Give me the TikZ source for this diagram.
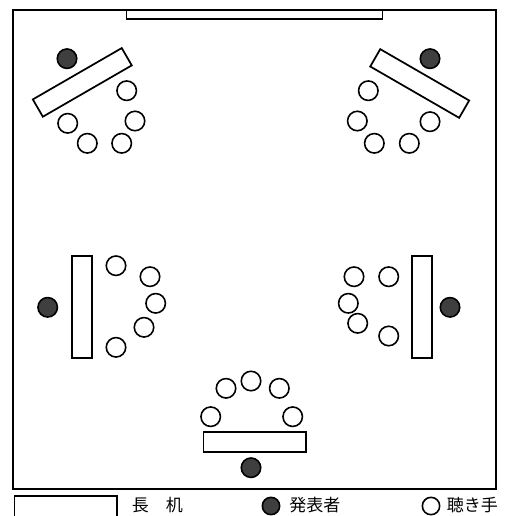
\documentclass[tikz,border=0pt]{standalone}
\usepackage{fontspec}
\newfontfamily\jpfont{Noto Sans CJK JP}
\usepackage{tikz}
\usetikzlibrary{positioning}
\definecolor{kokuIro}{HTML}{3F3F3F}

\begin{document}
\begin{tikzpicture}[x=0.75pt, y=-0.75pt,
    tsukue/.style={rectangle, draw, line width=1.3pt, fill=white, inner sep=0pt,
                   minimum width=77pt, minimum height=15pt},
    happyosha/.style={circle, draw, line width=1.2pt, fill=kokuIro, inner sep=0pt, minimum size=14.6pt},
    kikite/.style={circle, draw, line width=1.2pt, fill=white, inner sep=0pt, minimum size=14.6pt},
    hanrei/.style={font=\jpfont\fontsize{12.75pt}{14pt}\selectfont, anchor=west, inner sep=0pt}
  ]
  \clip (0,0) rectangle (507,516);
  % room
  \draw[line width=1.4pt] (13,10) rectangle (496,489);
  \node[tsukue, minimum width=192pt, minimum height=6.5pt] (kokuban) at (254.5,14.5) {};

  % upper left
  \node[tsukue, rotate=30] (tsukueA) at (82.3,82.4) {};
  \node[happyosha] (happyoA) at (67,58.7) {};
  \node[kikite] (kikiteA1) at (126.7,90.7) {};
  \node[kikite] (kikiteA2) at (135,121) {};
  \node[kikite] (kikiteA3) at (67.7,123.3) {};
  \node[kikite] (kikiteA4) at (87.3,143.3) {};
  \node[kikite] (kikiteA5) at (121.7,143.3) {};

  % upper right
  \node[tsukue, rotate=-30] (tsukueB) at (419.7,83.5) {};
  \node[happyosha] (happyoB) at (430,58.7) {};
  \node[kikite] (kikiteB1) at (368.3,90.7) {};
  \node[kikite] (kikiteB2) at (357.3,121) {};
  \node[kikite] (kikiteB3) at (430,121.7) {};
  \node[kikite] (kikiteB4) at (374.3,143.3) {};
  \node[kikite] (kikiteB5) at (409.3,143.3) {};

  % left
  \node[tsukue, rotate=90] (tsukueC) at (82.2,307) {};
  \node[happyosha] (happyoC) at (47.7,307.3) {};
  \node[kikite] (kikiteC1) at (116,265.7) {};
  \node[kikite] (kikiteC2) at (150,276.7) {};
  \node[kikite] (kikiteC3) at (155.7,303.3) {};
  \node[kikite] (kikiteC4) at (144,327.3) {};
  \node[kikite] (kikiteC5) at (116,347.3) {};

  % right
  \node[tsukue, rotate=90] (tsukueD) at (421.7,307) {};
  \node[happyosha] (happyoD) at (450,307.3) {};
  \node[kikite] (kikiteD1) at (354,276.7) {};
  \node[kikite] (kikiteD2) at (388.7,276.7) {};
  \node[kikite] (kikiteD3) at (348.3,303.3) {};
  \node[kikite] (kikiteD4) at (357.7,323.3) {};
  \node[kikite] (kikiteD5) at (388.7,336) {};

  % bottom
  \node[tsukue] (tsukueE) at (254.7,441.8) {};
  \node[happyosha] (happyoE) at (251,467.7) {};
  \node[kikite] (kikiteE1) at (210.7,416.7) {};
  \node[kikite] (kikiteE2) at (226,388.3) {};
  \node[kikite] (kikiteE3) at (251,381) {};
  \node[kikite] (kikiteE4) at (279.3,388.3) {};
  \node[kikite] (kikiteE5) at (292.7,416.7) {};

  % legend
  \node[tsukue, anchor=north west, minimum height=24pt] (hanreiTsukue) at (13.5,495) {};
  \node[hanrei] (txtTsukue) at (131.7,505.5) {長　机};
  \node[happyosha, minimum size=13pt] (hanreiHappyo) at (271,506) {};
  \node[hanrei] (txtHappyo) at (289,505.5) {発表者};
  \node[kikite, minimum size=13pt] (hanreiKikite) at (431,506) {};
  \node[hanrei] (txtKikite) at (446.5,505.5) {聴き手};
\end{tikzpicture}
\end{document}
